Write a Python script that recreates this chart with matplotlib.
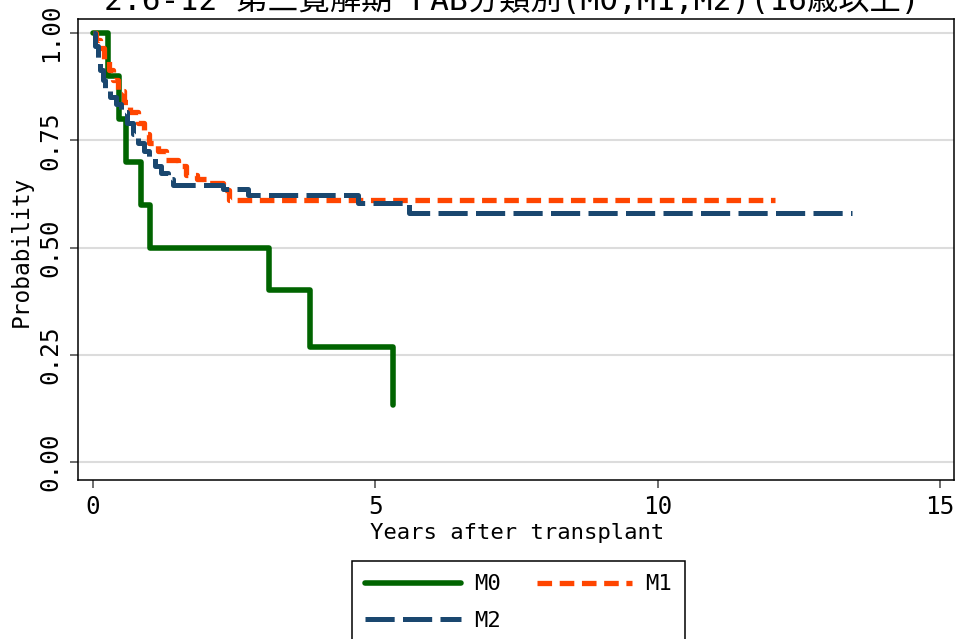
import matplotlib
matplotlib.use("Agg")
import matplotlib.pyplot as plt

plt.rcParams['font.family'] = ['DejaVu Sans Mono', 'Noto Sans CJK JP']
plt.rcParams['lines.scale_dashes'] = False

# Kaplan-Meier step curves: event times (years) and survival after each step
m0_t = [0, 0.27, 0.46, 0.59, 0.85, 1.01, 3.11, 3.85, 5.31]
m0_s = [1.0, 0.9, 0.8, 0.7, 0.6, 0.5, 0.4, 0.267, 0.133]
m0_end = 5.31

m1_t = [0, 0.05, 0.12, 0.2, 0.28, 0.35, 0.45, 0.55, 0.65, 0.8, 0.9, 1.0,
        1.15, 1.3, 1.5, 1.65, 1.85, 2.05, 2.3, 2.4]
m1_s = [1.0, 0.985, 0.965, 0.94, 0.915, 0.89, 0.865, 0.84, 0.815, 0.79, 0.765, 0.745,
        0.725, 0.705, 0.69, 0.67, 0.66, 0.65, 0.635, 0.612]
m1_end = 12.08

m2_t = [0, 0.03, 0.08, 0.12, 0.17, 0.22, 0.3, 0.4, 0.5, 0.6, 0.7, 0.8, 0.9,
        1.0, 1.1, 1.2, 1.33, 1.42, 2.3, 2.75, 4.7, 5.6]
m2_s = [1.0, 0.97, 0.94, 0.915, 0.89, 0.87, 0.85, 0.835, 0.815, 0.79, 0.765, 0.745, 0.725,
        0.71, 0.69, 0.675, 0.66, 0.645, 0.637, 0.622, 0.604, 0.58]
m2_end = 13.45

title = "2.6-12 第三寛解期 FAB分類別(M0,M1,M2)(16歳以上)"
xticks = [0, 5, 10, 15]
yticks = [0.0, 0.25, 0.5, 0.75, 1.0]

W, H = 957, 639
fig = plt.figure(figsize=(W / 100, H / 100), dpi=100)
ax = fig.add_axes([78 / W, 1 - 480 / H, (954 - 78) / W, (480 - 19) / H])

l0, = ax.step(m0_t + [m0_end], m0_s + [m0_s[-1]], where='post', color='#006400', lw=4.0,
              solid_joinstyle='round', solid_capstyle='round', label='M0')
l1, = ax.step(m1_t + [m1_end], m1_s + [m1_s[-1]], where='post', color='#ff4500', lw=3.8,
              dashes=(10.5, 5.5), label='M1')
l2, = ax.step(m2_t + [m2_end], m2_s + [m2_s[-1]], where='post', color='#1a476f', lw=3.6,
              dashes=(21, 6), label='M2')

ax.set_xlim(-0.266, 15.25)
ax.set_ylim(-0.042, 1.033)
ax.set_xticks(xticks)
ax.set_yticks(yticks)
ax.set_yticklabels([f"{v:.2f}" for v in yticks], rotation=90, va='center')
ax.tick_params(axis='both', labelsize=17.5, length=6, width=1.2, color='#555555', pad=5)
ax.grid(axis='y', color='#dcdcdc', lw=1.5)
ax.set_axisbelow(True)
for sp in ax.spines.values():
    sp.set_linewidth(1.1)
    sp.set_color('black')

fig.text(21 / W, 1 - 251 / H, "Probability", rotation=90, fontsize=16.5,
         ha='center', va='center')
fig.text(517 / W, 1 - 533 / H, "Years after transplant", fontsize=16,
         ha='center', va='center')
fig.text(512 / W, 1 - 10 / H, title, fontsize=22.5, ha='center', va='baseline')

# column-major fill: M0 / M2 in the first column, M1 in the second
leg = fig.legend([l0, l2, l1], ['M0', 'M2', 'M1'], loc='upper left',
                 bbox_to_anchor=(352 / W, 1 - 561 / H), ncol=2,
                 fontsize=16, handlelength=4.3, handletextpad=0.6, columnspacing=1.6,
                 labelspacing=0.75, borderpad=0.6, borderaxespad=0, fancybox=False,
                 framealpha=1, edgecolor='black')
leg.get_frame().set_linewidth(1.1)

fig.savefig("out.png", dpi=100)
